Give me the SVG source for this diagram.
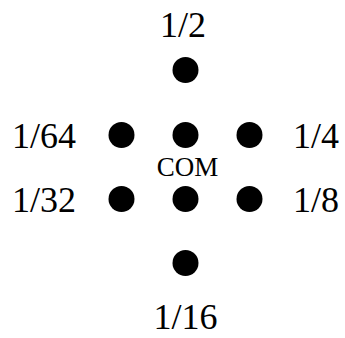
<svg xmlns="http://www.w3.org/2000/svg" width="345" height="338" viewBox="0 0 345 338">
<style>
.d{fill:#000}
.t{font-family:"Liberation Serif","Times New Roman",serif;font-size:36px;fill:#000}
.s{font-family:"Liberation Serif","Times New Roman",serif;font-size:27px;fill:#000}
</style>
<rect width="345" height="338" fill="#fff"/>
<g id="connectors"/>
<g id="n_top"><circle class="d" cx="185.5" cy="70" r="13"/><text class="t" x="183" y="37" text-anchor="middle">1/2</text></g>
<g id="n_ml"><circle class="d" cx="121.5" cy="135" r="13"/><text class="t" x="12" y="148">1/64</text></g>
<g id="n_mc"><circle class="d" cx="185.5" cy="135" r="13"/></g>
<g id="n_mr"><circle class="d" cx="249.5" cy="135" r="13"/><text class="t" x="293" y="148">1/4</text></g>
<g id="com"><text class="s" x="187.5" y="176" text-anchor="middle">COM</text></g>
<g id="n_bl"><circle class="d" cx="121.5" cy="199" r="13"/><text class="t" x="12" y="212">1/32</text></g>
<g id="n_bc"><circle class="d" cx="185.5" cy="199" r="13"/></g>
<g id="n_br"><circle class="d" cx="249.5" cy="199" r="13"/><text class="t" x="293" y="212">1/8</text></g>
<g id="n_bot"><circle class="d" cx="185.5" cy="263" r="13"/><text class="t" x="185.5" y="329" text-anchor="middle">1/16</text></g>
</svg>
